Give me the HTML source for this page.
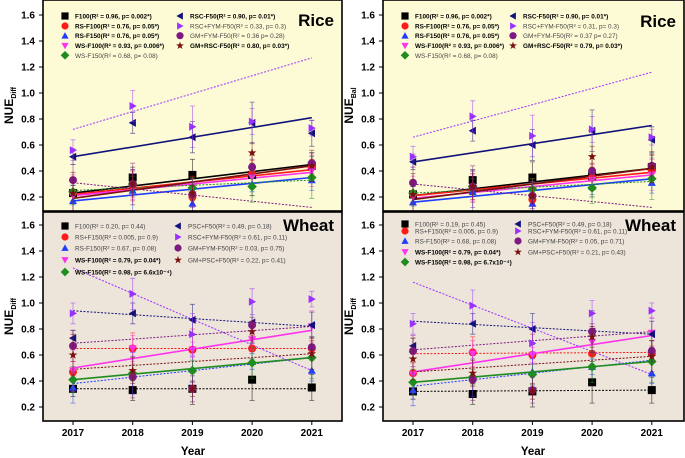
<!DOCTYPE html>
<html><head><meta charset="utf-8">
<style>
html,body{margin:0;padding:0;background:#fff;}
svg{display:block;font-family:"Liberation Sans",Arial,sans-serif;}
</style></head>
<body>
<svg id="chart" width="685" height="458" viewBox="0 0 685 458" xmlns="http://www.w3.org/2000/svg"></svg>
<script>
const years = [2017, 2018, 2019, 2020, 2021];
const yTicks = [0.2, 0.4, 0.6, 0.8, 1.0, 1.2, 1.4, 1.6];

// ---- Rice, NUE_Diff (left top) ----
const riceDiffF100 = [0.23, 0.35, 0.37, 0.37, 0.44];
const riceDiffRSF100 = [0.23, 0.29, 0.20, 0.38, 0.43];
const riceDiffRSF150 = [0.17, 0.25, 0.15, 0.30, 0.33];
const riceDiffWSF100 = [0.21, 0.28, 0.28, 0.35, 0.40];
const riceDiffWSF150 = [0.24, 0.30, 0.27, 0.28, 0.35];
const riceDiffRSCF50 = [0.51, 0.77, 0.66, 0.77, 0.69];
const riceDiffRSCFYM = [0.56, 0.90, 0.74, 0.78, 0.73];
const riceDiffGMFYM = [0.33, 0.30, 0.22, 0.43, 0.46];
const riceDiffGMRSC = [0.23, 0.30, 0.23, 0.54, 0.44];
const riceDiffFits = [[0.23,0.45],[0.22,0.41],[0.17,0.35],[0.21,0.39],[0.25,0.33],[0.51,0.81],[0.72,1.27],[0.31,0.12],[0.19,0.44]];

// ---- Rice, NUE_Bal (right top) ----
const riceBalF100 = [0.22, 0.33, 0.35, 0.36, 0.43];
const riceBalRSF100 = [0.22, 0.28, 0.18, 0.35, 0.40];
const riceBalRSF150 = [0.16, 0.24, 0.15, 0.28, 0.31];
const riceBalWSF100 = [0.20, 0.27, 0.26, 0.33, 0.37];
const riceBalWSF150 = [0.23, 0.28, 0.26, 0.27, 0.34];
const riceBalRSCF50 = [0.47, 0.71, 0.60, 0.71, 0.64];
const riceBalRSCFYM = [0.51, 0.82, 0.67, 0.72, 0.66];
const riceBalGMFYM = [0.31, 0.28, 0.21, 0.40, 0.44];
const riceBalGMRSC = [0.22, 0.28, 0.21, 0.51, 0.43];
const riceBalFits = [[0.21,0.42],[0.21,0.39],[0.16,0.34],[0.19,0.37],[0.23,0.32],[0.47,0.75],[0.66,1.16],[0.30,0.12],[0.18,0.42]];

// ---- Wheat, left ----
const wheatLF100 = [0.34, 0.33, 0.34, 0.41, 0.35];
const wheatLRSF150r = [0.47, 0.65, 0.64, 0.65, 0.65];
const wheatLRSF150 = [0.35, 0.46, 0.49, 0.55, 0.48];
const wheatLWSF100 = [0.48, 0.65, 0.64, 0.72, 0.82];
const wheatLWSF150 = [0.41, 0.46, 0.48, 0.54, 0.58];
const wheatLPSCF50 = [0.73, 0.92, 0.87, 0.85, 0.83];
const wheatLRSCFYM = [0.92, 1.07, 0.76, 1.01, 1.03];
const wheatLGMFYM = [0.67, 0.43, 0.34, 0.83, 0.66];
const wheatLGMPSC = [0.60, 0.48, 0.34, 0.78, 0.61];
const wheatLFits = [[0.34,0.34],[0.65,0.65],[0.38,0.58],[0.50,0.79],[0.41,0.58],[0.94,0.82],[1.27,0.48],[0.69,0.82],[0.49,0.61]];

// ---- Wheat, right ----
const wheatRF100 = [0.32, 0.30, 0.32, 0.39, 0.33];
const wheatRRSF150r = [0.46, 0.62, 0.60, 0.61, 0.61];
const wheatRRSF150 = [0.33, 0.44, 0.47, 0.51, 0.46];
const wheatRWSF100 = [0.45, 0.61, 0.60, 0.70, 0.77];
const wheatRWSF150 = [0.39, 0.43, 0.45, 0.51, 0.55];
const wheatRPSCF50 = [0.67, 0.84, 0.80, 0.78, 0.76];
const wheatRRSCFYM = [0.84, 0.98, 0.69, 0.92, 0.94];
const wheatRGMFYM = [0.63, 0.41, 0.33, 0.78, 0.63];
const wheatRGMPSC = [0.57, 0.46, 0.32, 0.74, 0.59];
const wheatRFits = [[0.32,0.33],[0.61,0.62],[0.36,0.56],[0.47,0.75],[0.39,0.55],[0.86,0.76],[1.16,0.45],[0.64,0.78],[0.47,0.59]];

const errSizes = [0.06, 0.08, 0.12, 0.16, 0.10];

const styles = [
 {c:'#000000', m:'square'}, {c:'#ff1a1a', m:'circle'}, {c:'#1f3dff', m:'tri-up'},
 {c:'#ff33ee', m:'tri-down'}, {c:'#1e8c1e', m:'diamond'}, {c:'#13127a', m:'tri-left'},
 {c:'#9b30ff', m:'tri-right'}, {c:'#7e1a82', m:'circle'}, {c:'#7a1010', m:'star'}];

const riceLeg1 = [
 ['F100(R² = 0.96, p= 0.002*)',1],['RS-F100(R² = 0.76, p= 0.05*)',1],['RS-F150(R² = 0.76, p= 0.05*)',1],
 ['WS-F100(R² = 0.93, p= 0.006*)',1],['WS-F150(R² = 0.68, p= 0.08)',0],['RSC-F50(R² = 0.90, p= 0.01*)',1],
 ['RSC+FYM-F50(R² = 0.33, p= 0.3)',0],['GM+FYM-F50(R² = 0.36 p= 0.28)',0],['GM+RSC-F50(R² = 0.80, p= 0.03*)',1]];
const riceLeg2 = [
 ['F100(R² = 0.96, p= 0.002*)',1],['RS-F100(R² = 0.76, p= 0.05*)',1],['RS-F150(R² = 0.76, p= 0.05*)',1],
 ['WS-F100(R² = 0.93, p= 0.006*)',1],['WS-F150(R² = 0.68, p= 0.08)',0],['RSC-F50(R² = 0.90, p= 0.01*)',1],
 ['RSC+FYM-F50(R² = 0.31, p= 0.3)',0],['GM+FYM-F50(R² = 0.37 p= 0.27)',0],['GM+RSC-F50(R² = 0.79, p= 0.03*)',1]];
const wheatLeg1 = [
 ['F100(R² = 0.20, p= 0.44)',0],['RS+F150(R² = 0.005, p= 0.9)',0],['RS-F150(R² = 0.67, p= 0.08)',0],
 ['WS-F100(R² = 0.79, p= 0.04*)',1],['WS-F150(R² = 0.98, p= 6.6x10⁻⁴)',1],['PSC+F50(R² = 0.49, p= 0.18)',0],
 ['RSC+FYM-F50(R² = 0.61, p= 0.11)',0],['GM+FYM-F50(R² = 0.03, p= 0.75)',0],['GM+PSC+F50(R² = 0.22, p= 0.41)',0]];
const wheatLeg2 = [
 ['F100(R² = 0.19, p= 0.45)',0],['RS+F150(R² = 0.005, p= 0.9)',0],['RS-F150(R² = 0.68, p= 0.08)',0],
 ['WS-F100(R² = 0.79, p= 0.04*)',1],['WS-F150(R² = 0.98, p= 6.7x10⁻⁴)',1],['PSC+F50(R² = 0.49, p= 0.18)',0],
 ['RSC+FYM-F50(R² = 0.61, p= 0.11)',0],['GM+FYM-F50(R² = 0.05, p= 0.71)',0],['GM+PSC+F50(R² = 0.21, p= 0.43)',0]];

const riceSolid = [1,1,1,1,0,1,0,0,1];
const wheatSolid = [0,0,0,1,1,0,0,0,0];

const NS = 'http://www.w3.org/2000/svg';
const svg = document.getElementById('chart');
function el(tag, attrs, parent){ const e=document.createElementNS(NS,tag); for(const k in attrs) e.setAttribute(k,attrs[k]); (parent||svg).appendChild(e); return e; }

function marker(g, type, x, y, r, col){
  let e;
  if(type==='square') e=el('rect',{x:x-r,y:y-r,width:2*r,height:2*r,fill:col},g);
  else if(type==='circle') e=el('circle',{cx:x,cy:y,r:r,fill:col},g);
  else {
    let p;
    if(type==='tri-up') p=[[x,y-r],[x+r,y+r*0.8],[x-r,y+r*0.8]];
    if(type==='tri-down') p=[[x,y+r],[x+r,y-r*0.8],[x-r,y-r*0.8]];
    if(type==='tri-left') p=[[x-r,y],[x+r*0.8,y-r],[x+r*0.8,y+r]];
    if(type==='tri-right') p=[[x+r,y],[x-r*0.8,y-r],[x-r*0.8,y+r]];
    if(type==='diamond') p=[[x,y-r*1.2],[x+r*1.2,y],[x,y+r*1.2],[x-r*1.2,y]];
    if(type==='star'){ p=[]; for(let i=0;i<10;i++){const a=-Math.PI/2+i*Math.PI/5, rr=i%2?r*0.45:r*1.15; p.push([x+rr*Math.cos(a),y+rr*Math.sin(a)]);} }
    e=el('polygon',{points:p.map(q=>q.join(',')).join(' '),fill:col},g);
  }
  return e;
}

function panel(opt){
  const {x0,x1,yTop,yBot,y16,bg,series,fits,solid,legend,title,ysub,legRows,legX2,name}=opt;
  const g=el('g',{});
  
  
  el('rect',{x:x0,y:yTop,width:x1-x0,height:yBot-yTop,fill:bg},g);
  const xs = yr => x0+30 + (yr-2017)*59.7;
  const ys = v => y16 + (1.6-v)*130;
  const cp = 'clip-'+name;
  const cl = el('clipPath',{id:cp},g); el('rect',{x:x0,y:yTop,width:x1-x0,height:yBot-yTop},cl);
  const pg = el('g',{'clip-path':'url(#'+cp+')'},g);
  yTicks.forEach(t=>{
    const y=ys(t); if(y<yTop-2||y>yBot) return;
    el('line',{x1:x0-4,x2:x0,y1:y,y2:y,stroke:'#000','stroke-width':1},g);
    const tx=el('text',{x:x0-8,y:y+3.5,'text-anchor':'end','font-size':10,'font-weight':'bold'},g);
    tx.textContent=t.toFixed(1);
    
    
  });
  fits.forEach((f,i)=>{
    const ln=el('line',{x1:xs(2017),y1:ys(f[0]),x2:xs(2021),y2:ys(f[1]),stroke:styles[i].c,'stroke-width':solid[i]?1.6:1,'stroke-dasharray':solid[i]?'':'2,1.5'},pg);
    
    
  });
  series.forEach((vals,i)=>{
    vals.forEach((v,j)=>{
      const x=xs(years[j]), y=ys(v), e=errSizes[(i+j)%5];
      const eb=el('path',{d:`M${x},${ys(v+e)}V${ys(v-e)}M${x-2.5},${ys(v+e)}h5M${x-2.5},${ys(v-e)}h5`,stroke:styles[i].c,'stroke-width':0.8,fill:'none',opacity:0.6},pg);
      
      
      const m=marker(pg,styles[i].m,x,y,4,styles[i].c);
      
      
    });
  });
  legend.forEach((L,i)=>{
    const col=i<5?0:1, row=i<5?i:i-5;
    const lx = col? x0+legX2 : x0+22;
    const ly = yTop+legRows[row];
    const m=marker(g,styles[i].m,lx,ly,3.6,styles[i].c);
    
    
    const t=el('text',{x:lx+10,y:ly+2.5,'font-size':6.4,'font-weight':L[1]?'bold':'normal',fill:L[1]?'#000':'#444'},g);
    t.textContent=L[0];
    
    
  });
  const tt=el('text',{x:x1-8,y:title.y,'text-anchor':'end','font-size':17,'font-weight':'bold'},g);
  tt.textContent=title.t;
  
  
  const cy=(yTop+yBot)/2, lxp=x0-30;
  const yl=el('text',{transform:`translate(${lxp},${cy}) rotate(-90)`,'text-anchor':'middle','font-size':12,'font-weight':'bold'},g);
  yl.innerHTML=`NUE<tspan font-size="7" dy="3">${ysub}</tspan>`;
  
  
  el('rect',{x:x0,y:yTop,width:x1-x0,height:yBot-yTop,fill:'none',stroke:'#000','stroke-width':1.6},g);
  return {g,xs};
}

const rows1=[16,26,35.7,45.7,55.3];
const wl=[226,237,248,260,272].map(v=>v-212);
const wr=[224,231,241,252,262].map(v=>v-212);

panel({name:'rice-left-panel',x0:43,x1:342,yTop:0,yBot:211,y16:15,bg:'#fdfbd6',series:[riceDiffF100,riceDiffRSF100,riceDiffRSF150,riceDiffWSF100,riceDiffWSF150,riceDiffRSCF50,riceDiffRSCFYM,riceDiffGMFYM,riceDiffGMRSC],fits:riceDiffFits,solid:riceSolid,legend:riceLeg1,legRows:rows1,legX2:137,title:{t:'Rice',y:26},ysub:'Diff'});
panel({name:'rice-right-panel',x0:383,x1:684,yTop:0,yBot:211,y16:15,bg:'#fdfbd6',series:[riceBalF100,riceBalRSF100,riceBalRSF150,riceBalWSF100,riceBalWSF150,riceBalRSCF50,riceBalRSCFYM,riceBalGMFYM,riceBalGMRSC],fits:riceBalFits,solid:riceSolid,legend:riceLeg2,legRows:rows1,legX2:130,title:{t:'Rice',y:27},ysub:'Bal'});
const wL=panel({name:'wheat-left-panel',x0:43,x1:342,yTop:212,yBot:421,y16:225,bg:'#ede4da',series:[wheatLF100,wheatLRSF150r,wheatLRSF150,wheatLWSF100,wheatLWSF150,wheatLPSCF50,wheatLRSCFYM,wheatLGMFYM,wheatLGMPSC],fits:wheatLFits,solid:wheatSolid,legend:wheatLeg1,legRows:wl,legX2:135,title:{t:'Wheat',y:231},ysub:'Diff'});
const wR=panel({name:'wheat-right-panel',x0:383,x1:684,yTop:212,yBot:421,y16:225,bg:'#ede4da',series:[wheatRF100,wheatRRSF150r,wheatRRSF150,wheatRWSF100,wheatRWSF150,wheatRPSCF50,wheatRRSCFYM,wheatRGMFYM,wheatRGMPSC],fits:wheatRFits,solid:wheatSolid,legend:wheatLeg2,legRows:wr,legX2:135,title:{t:'Wheat',y:231},ysub:'Diff'});

[[wL,193],[wR,533]].forEach(([p,cx])=>{
  years.forEach(yr=>{
    const x=p.xs(yr);
    el('line',{x1:x,x2:x,y1:421,y2:425,stroke:'#000','stroke-width':1});
    const t=el('text',{x:x,y:436,'text-anchor':'middle','font-size':10,'font-weight':'bold'});
    t.textContent=yr;
    
    
  });
  const t=el('text',{x:cx,y:455,'text-anchor':'middle','font-size':11.5,'font-weight':'bold'});
  t.textContent='Year';
  
  
});
</script>
</body></html>
